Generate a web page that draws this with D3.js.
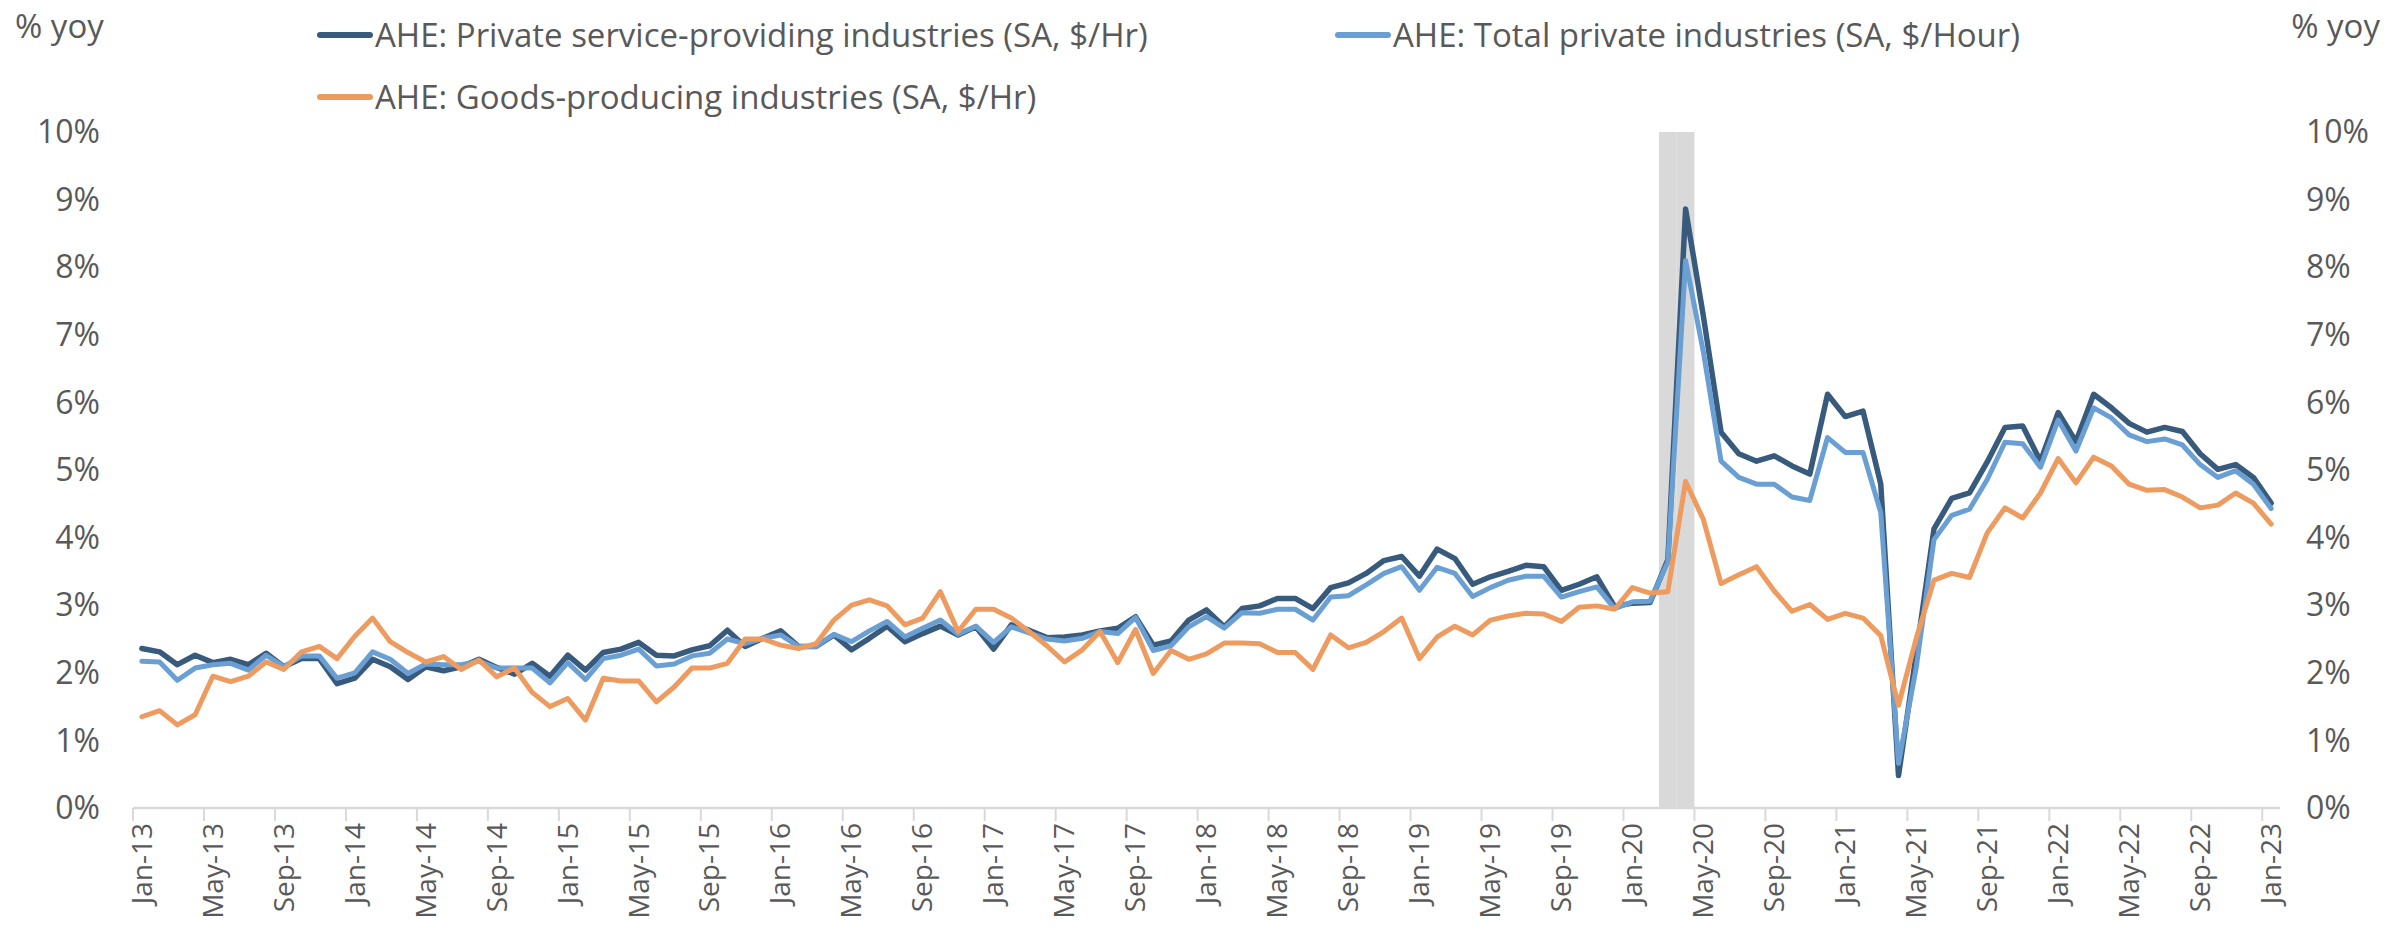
<!DOCTYPE html>
<html><head><meta charset="utf-8">
<script src="https://cdn.jsdelivr.net/npm/d3@7"></script>
<style>
body{margin:0;background:#fff}
svg text{font-family:"Open Sans",sans-serif;fill:#595959}
</style>
</head><body><svg id="c" width="2387" height="950"></svg>
<script>
// ---- data ----
const tickLabels = ["Jan-13","May-13","Sep-13","Jan-14","May-14","Sep-14","Jan-15","May-15","Sep-15","Jan-16","May-16","Sep-16","Jan-17","May-17","Sep-17","Jan-18","May-18","Sep-18","Jan-19","May-19","Sep-19","Jan-20","May-20","Sep-20","Jan-21","May-21","Sep-21","Jan-22","May-22","Sep-22","Jan-23"];
const yTickValues = [0,1,2,3,4,5,6,7,8,9,10];
const yTickLabels = ["0%","1%","2%","3%","4%","5%","6%","7%","8%","9%","10%"];
const recessionMonths = ["Mar-20","Apr-20"];
const recessionValue = 10;

const servicesAHE = [2.36,2.31,2.12,2.26,2.15,2.20,2.12,2.29,2.09,2.21,2.21,1.84,1.92,2.20,2.09,1.90,2.09,2.03,2.09,2.20,2.08,1.98,2.14,1.95,
2.26,2.04,2.30,2.35,2.45,2.26,2.25,2.34,2.40,2.63,2.39,2.51,2.62,2.39,2.39,2.56,2.34,2.51,2.69,2.46,2.58,2.69,2.56,2.68,
2.35,2.71,2.63,2.52,2.53,2.56,2.62,2.66,2.83,2.41,2.47,2.78,2.93,2.68,2.95,2.99,3.10,3.10,2.95,3.26,3.33,3.47,3.66,3.72,
3.43,3.83,3.69,3.31,3.42,3.50,3.59,3.57,3.22,3.31,3.42,2.98,3.03,3.04,3.67,8.86,7.28,5.56,5.24,5.13,5.21,5.06,4.94,6.12,
5.79,5.87,4.79,0.48,2.28,4.13,4.58,4.66,5.12,5.63,5.65,5.13,5.85,5.42,6.12,5.92,5.69,5.56,5.63,5.57,5.24,5.01,5.08,4.89,4.51];

const totalAHE = [2.17,2.16,1.89,2.07,2.12,2.14,2.04,2.26,2.09,2.25,2.25,1.92,2.00,2.31,2.20,1.99,2.13,2.12,2.12,2.17,2.07,2.07,2.07,1.85,
2.15,1.90,2.21,2.26,2.35,2.10,2.13,2.25,2.29,2.50,2.43,2.51,2.56,2.39,2.39,2.57,2.46,2.62,2.76,2.53,2.66,2.78,2.57,2.69,
2.45,2.68,2.59,2.50,2.47,2.51,2.61,2.58,2.82,2.33,2.40,2.68,2.83,2.66,2.89,2.88,2.94,2.94,2.78,3.12,3.14,3.30,3.47,3.57,
3.22,3.56,3.47,3.13,3.26,3.37,3.43,3.43,3.12,3.20,3.27,2.95,3.05,3.06,3.64,8.10,6.75,5.13,4.89,4.79,4.79,4.60,4.55,5.48,
5.26,5.26,4.37,0.66,2.08,3.97,4.33,4.42,4.86,5.41,5.39,5.04,5.74,5.28,5.92,5.77,5.52,5.42,5.46,5.37,5.08,4.89,4.99,4.79,4.43];

const goodsAHE = [1.35,1.44,1.23,1.38,1.95,1.87,1.95,2.16,2.05,2.31,2.39,2.21,2.54,2.81,2.46,2.30,2.16,2.24,2.05,2.19,1.94,2.07,1.71,1.50,
1.62,1.30,1.92,1.88,1.88,1.57,1.79,2.07,2.07,2.14,2.50,2.50,2.41,2.36,2.43,2.78,3.00,3.08,2.99,2.71,2.81,3.20,2.61,2.94,
2.94,2.81,2.61,2.40,2.16,2.34,2.61,2.15,2.64,1.99,2.33,2.20,2.28,2.44,2.44,2.43,2.30,2.30,2.05,2.56,2.37,2.45,2.61,2.81,
2.21,2.53,2.69,2.56,2.78,2.84,2.88,2.87,2.76,2.97,2.99,2.94,3.26,3.18,3.20,4.83,4.27,3.32,3.45,3.57,3.21,2.91,3.01,2.79,
2.88,2.81,2.55,1.52,2.51,3.37,3.47,3.41,4.07,4.44,4.29,4.66,5.17,4.81,5.19,5.06,4.79,4.70,4.71,4.60,4.44,4.48,4.66,4.51,4.20];

const seriesNames = ["AHE: Private service-providing industries (SA, $/Hr)","AHE: Total private industries (SA, $/Hour)","AHE: Goods-producing industries (SA, $/Hr)"];
const seriesColors = ["#385a7c","#6a9fd3","#ee9b60"];
const axisTitle = "% yoy";

// ---- chart ----
const fmt = d3.utcFormat("%b-%y");
const months = d3.utcMonth.range(new Date(Date.UTC(2013,0,1)), new Date(Date.UTC(2023,1,1))).map(fmt);

const svg = d3.select("#c");
const x = d3.scaleBand().domain(months).range([133, 2280]).padding(0);
const bw = x.bandwidth();
const y = d3.scaleLinear().domain([0, 10]).range([808, 132]);

// recession shading
svg.append("g").selectAll("rect").data(recessionMonths).join("rect")
  .attr("x", d => x(d)).attr("width", bw)
  .attr("y", y(recessionValue)).attr("height", y(0) - y(recessionValue))
  .attr("fill", "#d9d9d9");

// x axis
const ax = svg.append("g");
ax.append("line").attr("x1", x.range()[0]).attr("x2", x.range()[1])
  .attr("y1", y(0)).attr("y2", y(0)).attr("stroke", "#d9d9d9").attr("stroke-width", 2.5);
ax.selectAll("line.tk").data(tickLabels).join("line").attr("class","tk")
  .attr("x1", d => x(d)).attr("x2", d => x(d))
  .attr("y1", y(0)).attr("y2", y(0) + 13).attr("stroke", "#d9d9d9").attr("stroke-width", 2);
ax.selectAll("text").data(tickLabels).join("text")
  .attr("transform", d => `translate(${x(d) + bw/2},${y(0) + 15}) rotate(-90)`)
  .attr("text-anchor", "end").attr("dy", "0.35em")
  .style("font-size", "28px").text(d => d);

// y labels both sides
const yl = svg.append("g");
yl.selectAll("text.l").data(yTickValues).join("text").attr("class","l")
  .attr("x", 100).attr("y", d => y(d)).attr("dy", "0.35em").attr("text-anchor", "end")
  .style("font-size", "32px").text((d,i) => yTickLabels[i]);
yl.selectAll("text.r").data(yTickValues).join("text").attr("class","r")
  .attr("x", 2306).attr("y", d => y(d)).attr("dy", "0.35em").attr("text-anchor", "start")
  .style("font-size", "32px").text((d,i) => yTickLabels[i]);

svg.append("text").attr("x", 15).attr("y", 38).style("font-size", "33px").text(axisTitle);
svg.append("text").attr("x", 2380).attr("y", 38).attr("text-anchor","end").style("font-size", "33px").text(axisTitle);

// lines
const line = d3.line().x((d, i) => x(months[i]) + bw/2).y(d => y(d));
const allSeries = [servicesAHE, totalAHE, goodsAHE];
svg.append("g").selectAll("path").data(allSeries).join("path")
  .attr("d", line).attr("fill", "none")
  .attr("stroke", (d, i) => seriesColors[i])
  .attr("stroke-width", (d, i) => i === 0 ? 5.5 : 5)
  .attr("stroke-linejoin", "round").attr("stroke-linecap", "round");

// legend
const legendPos = [{x: 318, y: 35}, {x: 1336, y: 35}, {x: 318, y: 97}];
const lg = svg.append("g").selectAll("g").data(seriesNames).join("g")
  .attr("transform", (d, i) => `translate(${legendPos[i].x},${legendPos[i].y})`);
lg.append("line").attr("x1", 2).attr("x2", 52).attr("y1", 0).attr("y2", 0)
  .attr("stroke", (d, i) => seriesColors[i]).attr("stroke-width", 6).attr("stroke-linecap", "round");
lg.append("text").attr("x", 57).attr("y", 0).attr("dy", "0.35em")
  .style("font-size", "33px").text(d => d);
</script>
</body></html>
